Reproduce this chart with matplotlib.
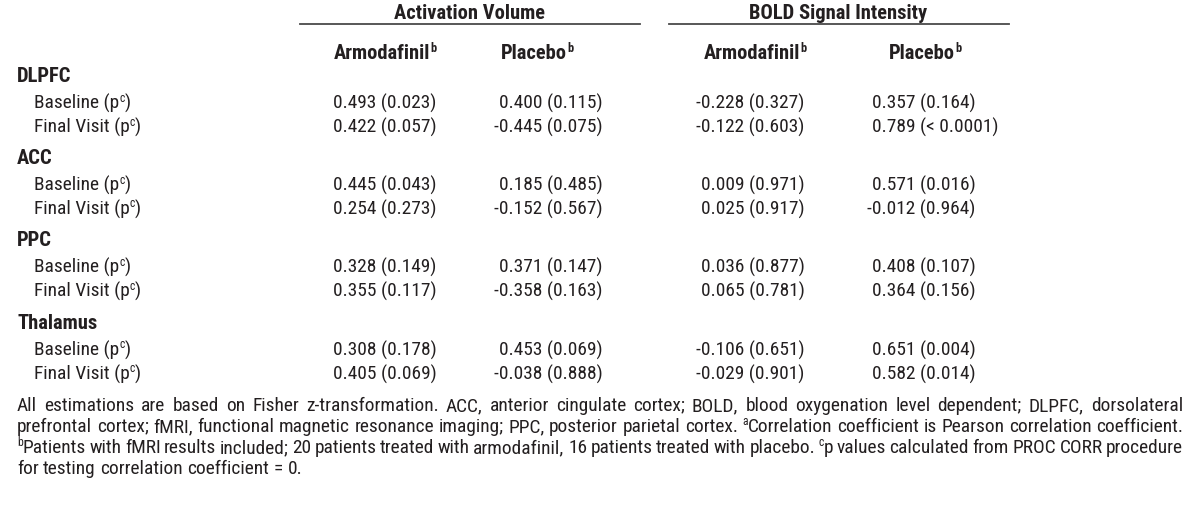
import matplotlib
matplotlib.use("Agg")
import matplotlib.pyplot as plt
from matplotlib import font_manager

# ---------------- data ----------------
regions = ["DLPFC", "ACC", "PPC", "Thalamus"]
visits = ["Baseline", "Final Visit"]
group_headers = ["Activation Volume", "BOLD Signal Intensity"]
col_headers = ["Armodafinil", "Placebo", "Armodafinil", "Placebo"]

act_arm_r = [0.493, 0.422, 0.445, 0.254, 0.328, 0.355, 0.308, 0.405]
act_arm_p = ["0.023", "0.057", "0.043", "0.273", "0.149", "0.117", "0.178", "0.069"]
act_pla_r = [0.400, -0.445, 0.185, -0.152, 0.371, -0.358, 0.453, -0.038]
act_pla_p = ["0.115", "0.075", "0.485", "0.567", "0.147", "0.163", "0.069", "0.888"]
bold_arm_r = [-0.228, -0.122, 0.009, 0.025, 0.036, 0.065, -0.106, -0.029]
bold_arm_p = ["0.327", "0.603", "0.971", "0.917", "0.877", "0.781", "0.651", "0.901"]
bold_pla_r = [0.357, 0.789, 0.571, -0.012, 0.408, 0.364, 0.651, 0.582]
bold_pla_p = ["0.164", "< 0.0001", "0.016", "0.964", "0.107", "0.156", "0.004", "0.014"]

footnote_lines = [
    "All estimations are based on Fisher z-transformation. ACC, anterior cingulate cortex; BOLD, blood oxygenation level dependent; DLPFC, dorsolateral",
    "prefrontal cortex; fMRI, functional magnetic resonance imaging; PPC, posterior parietal cortex. ^aCorrelation coefficient is Pearson correlation coefficient.",
    "^bPatients with fMRI results included; 20 patients treated with armodafinil, 16 patients treated with placebo. ^cp values calculated from PROC CORR procedure",
    "for testing correlation coefficient = 0.",
]

# ---------------- fonts ----------------
names = {f.name for f in font_manager.fontManager.ttflist}
FAM = "Liberation Sans"
for cand in ["Liberation Sans Narrow", "Roboto Condensed", "Archivo Narrow", "PT Sans Narrow", "Liberation Sans"]:
    if cand in names:
        FAM = cand
        break
COLOR = "#231f20"

W, H = 1200, 518
fig = plt.figure(figsize=(W / 100, H / 100), dpi=100)
fig.patch.set_facecolor("white")
renderer = fig.canvas.get_renderer()


def fx(x):
    return x / W


def fy(y):
    return 1 - y / H


def text_width(s, size, weight="normal"):
    t = fig.text(0, 0, s, fontsize=size, fontweight=weight, family=FAM)
    w = t.get_window_extent(renderer).width
    t.remove()
    return w


# calibrate size so that a value cell has the reference width (~103 px)
FS = 10 * 103.0 / text_width("0.493 (0.023)", 10)
FSB = 10 * 151.0 / text_width("Activation Volume", 10, "bold")
FSB = min(max(FSB, FS * 0.92), FS * 1.08)


def parse(s):
    segs = []
    i = 0
    buf = ""
    while i < len(s):
        if s[i] == "^" and i + 1 < len(s):
            if buf:
                segs.append((buf, False))
                buf = ""
            segs.append((s[i + 1], True))
            i += 2
        else:
            buf += s[i]
            i += 1
    if buf:
        segs.append((buf, False))
    return segs


SUPSCALE = 0.6


def seg_width(segs, size, weight):
    return sum(text_width(s, size * (SUPSCALE if sup else 1), weight) for s, sup in segs)


def draw(x, yc, s, size=None, weight="normal", ha="left"):
    if size is None:
        size = FS
    segs = parse(s)
    total = seg_width(segs, size, weight)
    if ha == "center":
        x = x - total / 2
    elif ha == "right":
        x = x - total
    em = size * 100 / 72
    base = yc + 0.36 * em
    for txt, sup in segs:
        sz = size * (SUPSCALE if sup else 1)
        yb = base - (0.36 * em if sup else 0)
        fig.text(fx(x), fy(yb), txt, fontsize=sz, fontweight=weight,
                 family=FAM, color=COLOR, va="baseline", ha="left")
        x += text_width(txt, sz, weight)


# ---------------- header ----------------
group_cx = [470, 838]
line_spans = [(300, 640), (669, 1009)]
for g, cx, (x0, x1) in zip(group_headers, group_cx, line_spans):
    draw(cx, 12, g, size=FSB, weight="bold", ha="center")
    fig.add_artist(plt.Line2D([fx(x0), fx(x1)], [fy(23.5), fy(23.5)],
                              color="#4a4a4a", lw=1.3))

col_cx = [385, 537, 755, 925]
for h, cx in zip(col_headers, col_cx):
    draw(cx, 52, h + "^b", size=FSB, weight="bold", ha="center")

# ---------------- body ----------------
group_y = [75, 157, 239, 322]
row_dy = [26.5, 50.5]
col_x = [333, 499, 701, 872]
cols = [(act_arm_r, act_arm_p), (act_pla_r, act_pla_p),
        (bold_arm_r, bold_arm_p), (bold_pla_r, bold_pla_p)]
minus_w = text_width("-", FS)

for gi, reg in enumerate(regions):
    gy = group_y[gi]
    draw(17, gy, reg, size=FSB, weight="bold")
    for vi, v in enumerate(visits):
        ry = gy + row_dy[vi]
        draw(34, ry, v + " (p^c)")
        k = gi * 2 + vi
        for cx, (rs, ps) in zip(col_x, cols):
            r = rs[k]
            s = f"{r:.3f} ({ps[k]})"
            x = cx - (minus_w if r < 0 else 0)
            draw(x, ry, s)

# ---------------- footnote (justified) ----------------
foot_y = [404, 425, 446, 467]
left, right = 17, 1183
space_w = text_width("a a", FS) - 2 * text_width("a", FS)
for li, (line, yy) in enumerate(zip(footnote_lines, foot_y)):
    words = line.split(" ")
    wsegs = [parse(w) for w in words]
    widths = [seg_width(sg, FS, "normal") for sg in wsegs]
    if li < len(footnote_lines) - 1:
        gap = (right - left - sum(widths)) / (len(words) - 1)
    else:
        gap = space_w
    x = left
    for w, wd in zip(words, widths):
        draw(x, yy, w)
        x += wd + gap

fig.savefig("out.png", dpi=100, facecolor="white")
